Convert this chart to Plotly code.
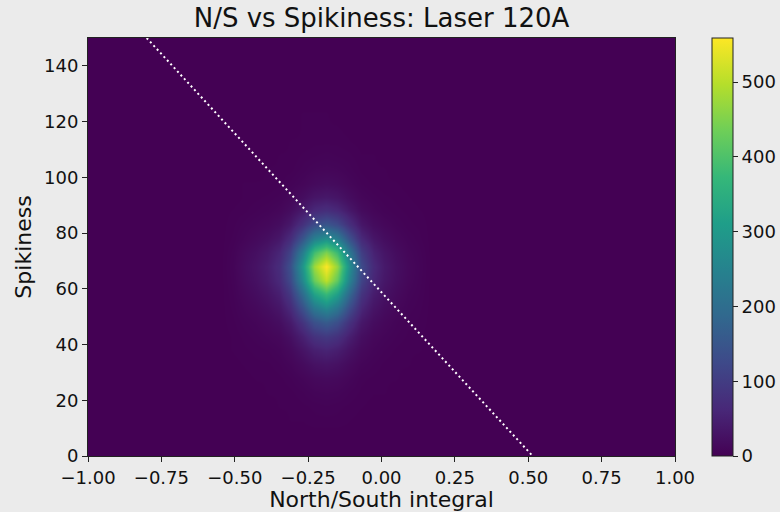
import plotly.graph_objects as go

# ---- data ----
# bin centres of the 2D histogram (counts) around the main cluster
x_centers = [-0.55, -0.51, -0.47, -0.43, -0.39, -0.35, -0.31, -0.27, -0.23, -0.19,
             -0.15, -0.11, -0.07, -0.03, 0.01, 0.05, 0.09, 0.13, 0.17]
y_centers = [8, 13, 18, 23, 28, 33, 38, 43, 48, 53, 58, 63, 68, 73, 78, 83, 88,
             93, 98, 103, 108, 113, 118, 123, 128]
counts = [
    [0, 0, 0, 0, 0, 0, 0, 0, 0, 0, 0, 0, 0, 0, 0, 0, 0, 0, 0],
    [0, 0, 0, 0, 0, 0, 1, 1, 2, 2, 2, 1, 0, 0, 0, 0, 0, 0, 0],
    [0, 0, 0, 0, 0, 1, 1, 2, 3, 4, 3, 2, 1, 0, 0, 0, 0, 0, 0],
    [0, 0, 0, 0, 1, 1, 2, 4, 7, 8, 7, 4, 2, 1, 1, 0, 0, 0, 0],
    [0, 0, 0, 1, 1, 2, 4, 8, 13, 15, 13, 8, 3, 2, 1, 1, 0, 0, 0],
    [0, 0, 1, 2, 2, 4, 8, 16, 26, 30, 25, 15, 7, 4, 2, 1, 1, 0, 0],
    [0, 1, 2, 3, 4, 7, 14, 29, 47, 55, 46, 28, 13, 7, 4, 2, 1, 1, 0],
    [0, 1, 3, 5, 8, 12, 24, 49, 82, 95, 80, 48, 22, 11, 7, 4, 2, 1, 0],
    [0, 2, 5, 8, 13, 21, 40, 83, 138, 160, 134, 80, 37, 19, 11, 6, 3, 2, 0],
    [0, 3, 8, 13, 21, 34, 65, 135, 224, 262, 218, 130, 60, 31, 18, 10, 5, 3, 0],
    [0, 4, 11, 19, 30, 48, 93, 192, 318, 372, 311, 185, 85, 44, 26, 15, 7, 4, 0],
    [0, 5, 15, 25, 40, 65, 125, 260, 430, 505, 420, 250, 115, 60, 35, 20, 10, 5, 0],
    [0, 6, 17, 28, 44, 72, 139, 289, 477, 559, 466, 278, 128, 67, 39, 22, 11, 6, 0],
    [0, 5, 14, 23, 36, 59, 113, 234, 387, 450, 378, 225, 104, 54, 32, 18, 9, 5, 0],
    [0, 3, 8, 14, 22, 36, 70, 146, 241, 280, 235, 140, 64, 34, 20, 11, 6, 3, 0],
    [0, 2, 5, 8, 12, 20, 38, 78, 129, 150, 126, 75, 35, 18, 11, 6, 3, 2, 0],
    [0, 1, 2, 4, 6, 10, 19, 39, 65, 75, 63, 38, 17, 9, 5, 3, 2, 1, 0],
    [0, 0, 1, 2, 3, 5, 10, 20, 33, 38, 32, 19, 9, 5, 3, 2, 1, 0, 0],
    [0, 0, 1, 1, 1, 2, 5, 9, 15, 18, 15, 9, 4, 2, 1, 1, 0, 0, 0],
    [0, 0, 0, 0, 1, 1, 2, 5, 8, 9, 8, 5, 2, 1, 1, 0, 0, 0, 0],
    [0, 0, 0, 0, 0, 1, 1, 3, 4, 5, 4, 3, 1, 1, 0, 0, 0, 0, 0],
    [0, 0, 0, 0, 0, 0, 1, 1, 2, 2, 2, 1, 0, 0, 0, 0, 0, 0, 0],
    [0, 0, 0, 0, 0, 0, 0, 1, 1, 1, 1, 0, 0, 0, 0, 0, 0, 0, 0],
    [0, 0, 0, 0, 0, 0, 0, 1, 1, 1, 0, 0, 0, 0, 0, 0, 0, 0, 0],
    [0, 0, 0, 0, 0, 0, 0, 0, 0, 0, 0, 0, 0, 0, 0, 0, 0, 0, 0],
]
z_max = 559

# dotted cut line
line_x = [-0.80, 0.515]
line_y = [150, 0]

x_ticks = [-1.0, -0.75, -0.5, -0.25, 0.0, 0.25, 0.5, 0.75, 1.0]
y_ticks = [0, 20, 40, 60, 80, 100, 120, 140]
cb_ticks = [0, 100, 200, 300, 400, 500]

FONT = "DejaVu Sans"
TXT = "#111111"

fig = go.Figure()
fig.add_trace(go.Heatmap(
    x=x_centers, y=y_centers, z=counts,
    colorscale="Viridis", zmin=0, zmax=z_max, zsmooth="best",
    hoverinfo="skip",
    colorbar=dict(
        x=1.0625, xanchor="left", xpad=0, ypad=0,
        y=0.5, yanchor="middle", len=1, lenmode="fraction",
        thickness=21, outlinewidth=1, outlinecolor="#222222",
        tickvals=cb_ticks, ticks="outside", ticklen=5, tickwidth=1,
        tickcolor="#222222",
        tickfont=dict(family=FONT, size=18, color=TXT),
    ),
))
fig.add_trace(go.Scatter(
    x=line_x, y=line_y, mode="lines",
    line=dict(color="white", width=2, dash="2px,3px"),
    hoverinfo="skip", showlegend=False,
))

fig.update_layout(
    width=780, height=512,
    margin=dict(l=88, r=105, t=38, b=56, autoexpand=False),
    paper_bgcolor="#ebebeb",
    plot_bgcolor="#440154",
    showlegend=False,
    title=dict(text="N/S vs Spikiness: Laser 120A", x=0.5, xref="paper",
               y=1 - 18 / 512, yref="container", yanchor="middle",
               font=dict(family=FONT, size=26, color=TXT)),
    xaxis=dict(
        range=[-1, 1], tickvals=x_ticks, tickformat=".2f",
        ticks="outside", ticklen=5, tickwidth=1, tickcolor="#222222",
        showgrid=False, zeroline=False, automargin=False,
        showline=True, mirror=True, linecolor="#222222", linewidth=1,
        tickfont=dict(family=FONT, size=18, color=TXT),
        title=dict(text="North/South integral", standoff=2,
                   font=dict(family=FONT, size=22, color=TXT)),
    ),
    yaxis=dict(
        range=[0, 150], tickvals=y_ticks,
        ticks="outside", ticklen=5, tickwidth=1, tickcolor="#222222",
        showgrid=False, zeroline=False, automargin=False,
        showline=True, mirror=True, linecolor="#222222", linewidth=1,
        tickfont=dict(family=FONT, size=18, color=TXT),
        title=dict(text="Spikiness", standoff=6,
                   font=dict(family=FONT, size=22, color=TXT)),
    ),
)

fig.write_html("out.html",
               config={"displayModeBar": False},
               post_script="document.body.style.margin='0';document.body.style.background='#ebebeb';")
